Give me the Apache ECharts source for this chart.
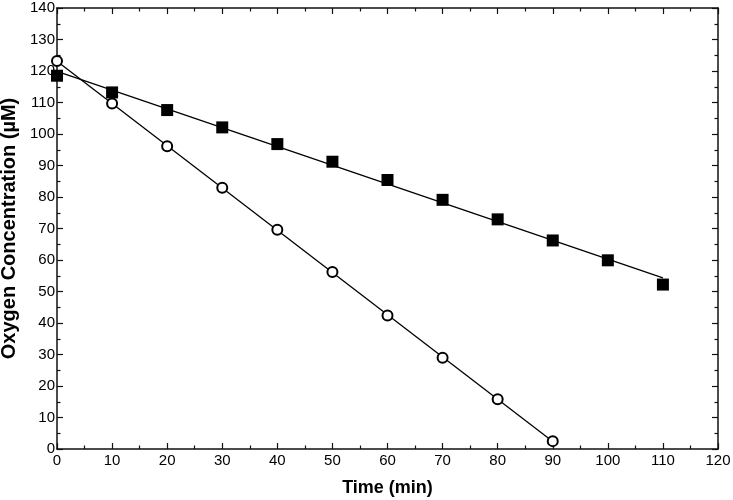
<!DOCTYPE html>
<html>
<head>
<meta charset="utf-8">
<script src="https://cdn.jsdelivr.net/npm/echarts@6/dist/echarts.min.js"></script>
<style>html,body{margin:0;padding:0;background:#fff;}#c{width:733px;height:500px;}</style>
</head>
<body>
<div id="c"></div>
<script>
const timesSquare = [0, 10, 20, 30, 40, 50, 60, 70, 80, 90, 100, 110];
const oxygenSquare = [118.5, 113.2, 107.6, 102.1, 96.8, 91.2, 85.4, 79.1, 72.9, 66.2, 59.9, 52.2];
const timesCircle = [0, 10, 20, 30, 40, 50, 60, 70, 80, 90];
const oxygenCircle = [123.2, 109.7, 96.1, 82.9, 69.6, 56.2, 42.4, 29.0, 15.8, 2.5];
const xTitle = 'Time (min)';
const yTitle = 'Oxygen Concentration (µM)';

function fitLine(xs, ys) {
  const n = xs.length;
  const mx = xs.reduce((a, b) => a + b, 0) / n;
  const my = ys.reduce((a, b) => a + b, 0) / n;
  let sxy = 0, sxx = 0;
  for (let i = 0; i < n; i++) { sxy += (xs[i] - mx) * (ys[i] - my); sxx += (xs[i] - mx) ** 2; }
  const b = sxy / sxx, a = my - b * mx;
  const x0 = Math.min(...xs), x1 = Math.max(...xs);
  return [[x0, a + b * x0], [x1, a + b * x1]];
}
const pair = (xs, ys) => xs.map((x, i) => [x, ys[i]]);

const FONT = '"Liberation Sans", Arial, sans-serif';
const axisCommon = {
  type: 'value',
  axisLine: { show: true, onZero: false, lineStyle: { color: '#111', width: 1.5 } },
  axisTick: { show: true, inside: true, length: 6, lineStyle: { color: '#111', width: 1.2 } },
  minorTick: { show: true, splitNumber: 2, length: 3.5, lineStyle: { color: '#111', width: 1.2 } },
  splitLine: { show: false },
  minorSplitLine: { show: false }
};

const chart = echarts.init(document.getElementById('c'));
chart.setOption({
  animation: false,
  backgroundColor: '#fff',
  grid: { left: 57, right: 15, top: 8, bottom: 51, containLabel: false, outerBoundsMode: 'none' },
  xAxis: [
    Object.assign({}, axisCommon, {
      min: 0, max: 120, interval: 10, position: 'bottom',
      name: xTitle, nameLocation: 'middle', nameGap: 30,
      nameTextStyle: { fontFamily: FONT, fontSize: 18, fontWeight: 'bold', color: '#000' },
      axisLabel: { fontFamily: FONT, fontSize: 15, color: '#000', margin: 4 }
    }),
    Object.assign({}, axisCommon, {
      min: 0, max: 120, interval: 10, position: 'top',
      axisLabel: { show: false }
    })
  ],
  yAxis: [
    Object.assign({}, axisCommon, {
      min: 0, max: 140, interval: 10, position: 'left',
      name: yTitle, nameLocation: 'middle', nameGap: 31, nameRotate: 90,
      nameTextStyle: { fontFamily: FONT, fontSize: 20, fontWeight: 'bold', color: '#000' },
      axisLabel: { fontFamily: FONT, fontSize: 15, color: '#000', margin: 2 }
    }),
    Object.assign({}, axisCommon, {
      min: 0, max: 140, interval: 10, position: 'right',
      axisLabel: { show: false }
    })
  ],
  series: [
    { type: 'line', data: fitLine(timesSquare, oxygenSquare), symbol: 'none',
      lineStyle: { color: '#000', width: 1.3 }, z: 1, silent: true },
    { type: 'line', data: fitLine(timesCircle, oxygenCircle), symbol: 'none',
      lineStyle: { color: '#000', width: 1.3 }, z: 1, silent: true },
    { type: 'scatter', data: pair(timesSquare, oxygenSquare), symbol: 'rect', symbolSize: 12,
      itemStyle: { color: '#000', opacity: 1 }, z: 3 },
    { type: 'scatter', data: pair(timesCircle, oxygenCircle), symbol: 'circle', symbolSize: 10,
      itemStyle: { color: '#fff', borderColor: '#000', borderWidth: 2, opacity: 1 }, z: 3 }
  ]
});
</script>
</body>
</html>
